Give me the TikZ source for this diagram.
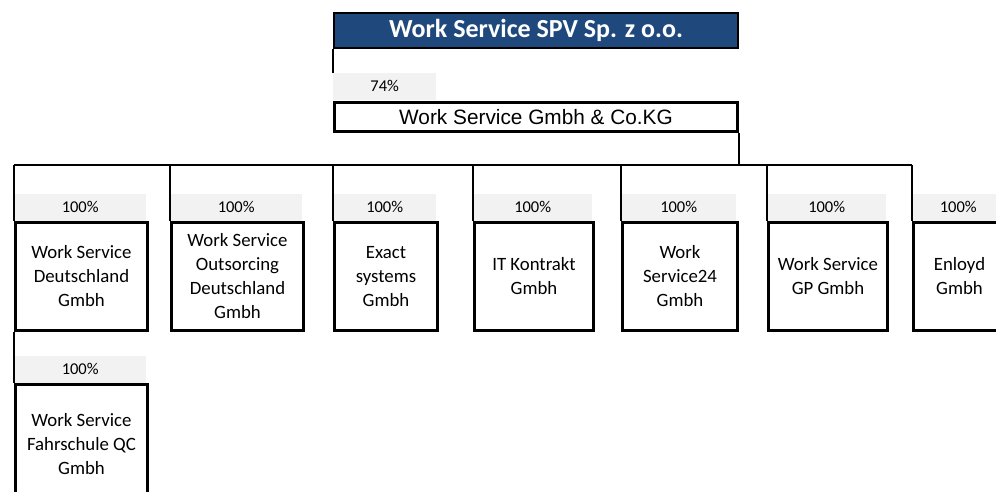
\documentclass[tikz,border=0pt]{standalone}
\usepackage{fontspec}
\setmainfont{Carlito}
\newfontfamily\arialfont{Liberation Sans}
\definecolor{titleblue}{HTML}{1F497D}
\definecolor{labgray}{HTML}{F2F2F2}
\begin{document}
\begin{tikzpicture}[x=1pt,y=-1pt,
  conn/.style={draw=black,line width=1.5pt},
  titlebox/.style={draw=black,line width=2.2pt,fill=titleblue,text=white,anchor=north west,inner sep=0pt,
    minimum width=404pt,minimum height=35pt,font=\fontsize{26}{30}\selectfont\bfseries},
  parentbox/.style={draw=black,line width=3pt,fill=white,anchor=north west,inner sep=0pt,
    minimum width=403pt,minimum height=29pt,font=\arialfont\fontsize{20.8}{24}\selectfont},
  lab/.style={fill=labgray,anchor=north west,inner sep=0pt,minimum height=27pt,
    text height=10.5pt,text depth=-5.5pt,font=\fontsize{16.5}{18}\selectfont},
  cbox/.style={draw=black,line width=3pt,fill=white,anchor=north west,inner sep=0pt,
    minimum height=108pt,align=center,font=\fontsize{18.8}{24}\selectfont}
]
\useasboundingbox (0,0) rectangle (996,491);
\clip (0,0) rectangle (996,491);
% top
\node[titlebox] (spv) at (333,12) {Work Service SPV Sp. z o.o.};
\node[lab,minimum width=103pt] (l0) at (333,73) {74\%};
\node[parentbox] (kg) at (333,101) {Work Service Gmbh \& Co.KG};
% labels
\node[lab,minimum width=132pt] (l1) at (14,194) {100\%};
\node[lab,minimum width=132pt] (l2) at (170,194) {100\%};
\node[lab,minimum width=103pt] (l3) at (333,194) {100\%};
\node[lab,minimum width=119pt] (l4) at (473,194) {100\%};
\node[lab,minimum width=115pt] (l5) at (621,194) {100\%};
\node[lab,minimum width=119pt] (l6) at (767,194) {100\%};
\node[lab,minimum width=92pt] (l7) at (912,194) {100\%};
\node[lab,minimum width=132pt] (l8) at (14,356) {100\%};
% boxes
\node[cbox,minimum width=132pt] (b1) at (14,221) {Work Service\\Deutschland\\Gmbh};
\node[cbox,minimum width=132pt] (b2) at (170,221) {Work Service\\Outsorcing\\Deutschland\\Gmbh};
\node[cbox,minimum width=103pt] (b3) at (333,221) {Exact\\systems\\Gmbh};
\node[cbox,minimum width=119pt] (b4) at (473,221) {IT Kontrakt\\Gmbh};
\node[cbox,minimum width=115pt] (b5) at (621,221) {Work\\Service24\\Gmbh};
\node[cbox,minimum width=119pt] (b6) at (767,221) {Work Service\\GP Gmbh};
\node[cbox,minimum width=92pt] (b7) at (912,221) {Enloyd\\Gmbh};
\node[cbox,minimum width=132pt,minimum height=120pt] (b8) at (14,383) {Work Service\\Fahrschule QC\\Gmbh};
% connectors
\coordinate (bus) at (0,165);
\draw[conn] (spv.south west) -- (l0.north west);
\draw[conn] (kg.south east) -- (kg.south east |- bus);
\draw[conn] (l1.north west |- bus) -- (l7.north west |- bus);
\foreach \i in {1,...,7}{
  \draw[conn] (l\i.north west |- bus) -- (b\i.north west);
}
\draw[conn] (b1.south west) -- (b8.north west);
\end{tikzpicture}
\end{document}
